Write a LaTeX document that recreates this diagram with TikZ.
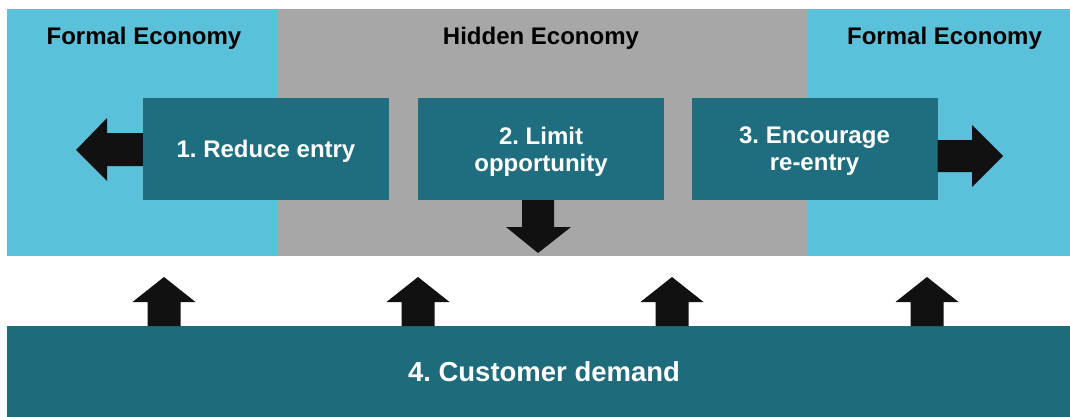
\documentclass[tikz,border=0pt]{standalone}
\usepackage{fontspec}
\setmainfont{Liberation Sans}
\frenchspacing
\begin{document}
\begin{tikzpicture}[x=1pt,y=-1pt,
  formalzone/.style={fill=formalblue, draw=none, inner sep=0pt, anchor=north west},
  hiddenzone/.style={fill=hiddengray, draw=none, inner sep=0pt, anchor=north west},
  zonetitle/.style={font=\bfseries\fontsize{24}{27}\selectfont, text=black,
    inner sep=0pt, text depth=0pt},
  stepbox/.style={fill=stepteal, draw=none, inner sep=0pt, minimum width=246pt,
    minimum height=102pt, text=white, align=center, text depth=0pt,
    font=\bfseries\fontsize{24}{27}\selectfont},
  arrowfill/.style={fill=arrowblack, draw=none},
  uparrow/.pic={\fill[arrowfill] (-16.5,0) -- (-16.5,-24) -- (-31.5,-24) -- (0,-49)
    -- (31.5,-24) -- (16.5,-24) -- (16.5,0) -- cycle;}
]
\definecolor{formalblue}{HTML}{5BC1DB}
\definecolor{hiddengray}{HTML}{A7A7A7}
\definecolor{stepteal}{HTML}{1F6E7F}
\definecolor{demandteal}{HTML}{1D6B7B}
\definecolor{arrowblack}{HTML}{111111}

\fill[white] (0,0) rectangle (1070,417);
\useasboundingbox (0,0) rectangle (1070,417);

% economy zones
\node[formalzone, minimum width=270pt, minimum height=247pt] (formalL) at (7,9) {};
\node[hiddenzone, minimum width=531pt, minimum height=247pt] (hidden) at (277,9) {};
\node[formalzone, minimum width=262pt, minimum height=247pt] (formalR) at (808,9) {};

\node[zonetitle] (titleL) at (144,36.3) {Formal Economy};
\node[zonetitle] (titleH) at (541,36.3) {Hidden Economy};
\node[zonetitle] (titleR) at (944.5,36.3) {Formal Economy};

% policy steps
\node[stepbox] (reduce) at (266,149) {1. Reduce entry};
\node[stepbox] (limit) at (541,149) {2. Limit\\opportunity};
\node[stepbox] (encourage) at (814.5,149) {3. Encourage\\re-entry};

% customer demand band
\node[fill=demandteal, draw=none, inner sep=0pt, anchor=north west,
  minimum width=1063pt, minimum height=91pt] (demand) at (7,326) {};
\node[text=white, font=\bfseries\fontsize{27.5}{30}\selectfont, inner sep=0pt,
  text depth=0pt] (demandlabel) at (544,372) {4. Customer demand};

% outward arrows of the steps
\fill[arrowfill] (reduce.west |- 0,133) -- (107,133) -- (107,118) -- (76,150)
  -- (107,181) -- (107,166) -- (reduce.west |- 0,166) -- cycle;
\fill[arrowfill] (encourage.east |- 0,140) -- (972,140) -- (972,125) -- (1003,156)
  -- (972,187) -- (972,172) -- (encourage.east |- 0,172) -- cycle;
\fill[arrowfill] (522,0 |- limit.south) -- (522,227) -- (506,227) -- (538,253)
  -- (571,227) -- (554,227) -- (554,0 |- limit.south) -- cycle;

% demand pushing up into the zones
\foreach \ax in {164,418,672,927}
  \pic at (\ax,0 |- demand.north) {uparrow};
\end{tikzpicture}
\end{document}
